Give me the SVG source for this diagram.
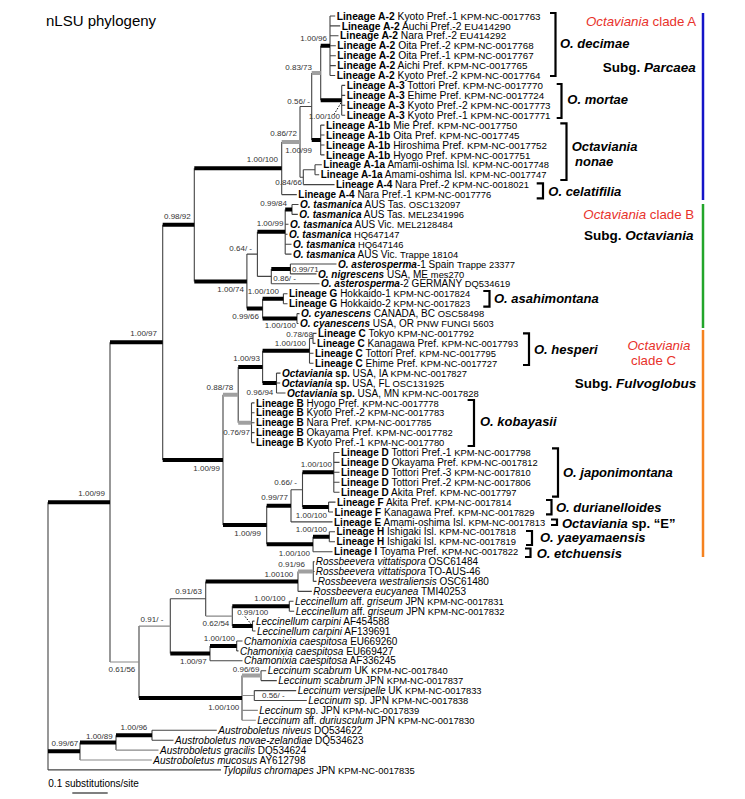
<svg xmlns="http://www.w3.org/2000/svg" width="745" height="799" viewBox="0 0 745 799">
<defs>
<style>
text{font-family:"Liberation Sans",Arial,sans-serif;fill:#000}
.lf{font-size:10px}
.la{font-size:10.3px}
.b{font-weight:bold}
.i{font-style:italic}
.bi{font-weight:bold;font-style:italic}
.c{font-size:9.4px}
.la .c{font-size:9.8px}
.s{font-size:8px;fill:#333}
.sp{font-size:13px;font-weight:bold;font-style:italic}
.red{font-size:13.3px;fill:#e8322b}
.subg{font-size:13.5px;font-weight:bold}
.t{stroke:#444;stroke-width:1.1;fill:none}
.tg{stroke:#888;stroke-width:1.1;fill:none}
.k{stroke:#000;stroke-width:4;fill:none}
.g{stroke:#a0a0a0;stroke-width:4;fill:none}
.dt{stroke:#000;stroke-width:1;stroke-dasharray:1.5 1.5;fill:none}
.br{stroke:#000;stroke-width:2.2;fill:none}
</style>
</defs>
<rect width="745" height="799" fill="#fff"/>
<g id="title"><text x="46" y="25.5" font-size="15">nLSU phylogeny</text></g>

<g id="connectors">
<path class="t" d="M48 502.2V769.9M110 342.3V662M162.7 224.8V459.9M194.3 168.2V281.4M281.7 141.9V194.6M300 106.5V177.2M311.7 73V140M320.7 45.8V100.3M330 16V75.5M341.7 85.4V115.2M320.7 125.1V154.9M303.3 169.8V184.6M315 164.8V174.7M246.9 254.1V308.6M257.4 231.8V276.4M285.2 209.5V254.1M292 204.5V214.4M271.3 269V283.8M290.4 264V273.9M262.6 298.7V318.6M283.4 293.8V303.7M297 313.6V323.5M223 394.8V525M238.2 366.9V422.7M262.6 350.8V383M309.5 338.4V363.2M313 333.4V343.4M276.5 373.1V393M251.5 402.9V442.6M266.7 505.8V544.2M291 489.7V521.9M302.5 472.3V507M333.8 452.5V492.2M328.6 502.1V512M313 536.8V551.7M329.3 531.8V541.8M139 626.1V698M170.3 598.8V653.4M205.7 581.5V616.1M298 571.5V591.4M313.3 561.6V581.4M232.3 606.2V626M289.3 601.3V611.2M252.5 621.1V631M210 646V660.8M236.7 641V650.9M242 675.6V720.3M261 670.7V680.6M254.3 690.6V700.5M80 742.6V760M116 735.2V750.1M152 730.2V740.2"/>
<path class="t" d="M300 106.5H311.7M300 177.2H303.3M303.3 169.8H315M246.9 254.1H257.4M257.4 276.4H271.3M291 489.7H302.5M309.5 338.4H313M170.3 598.8H205.7"/>
<path class="tg" d="M110 662H139M139 626.1H170.3M205.7 616.1H232.3M242 695.5H254.3M242 710.4H257.8M242 720.3H255.8M116 750.1H158.5M80 760H151.8"/>
<path class="k" d="M48 502.2H110M48 751.3H80M110 342.3H162.7M162.7 224.8H194.3M162.7 459.9H223M194.3 168.2H281.7M194.3 281.4H246.9M320.7 45.8H330M320.7 100.3H341.7M311.7 140H320.7M257.4 231.8H285.2M285.2 209.5H292M271.3 269H290.4M246.9 308.6H262.6M262.6 298.7H283.4M262.6 318.6H297M238.2 366.9H262.6M262.6 350.8H309.5M262.6 383H276.5M223 525H266.7M266.7 505.8H291M302.5 472.3H333.8M302.5 507H328.6M266.7 544.2H313M313 536.8H329.3M139 698H242M170.3 653.4H210M205.7 581.5H298M232.3 606.2H289.3M232.3 626H252.5M210 646H236.7M80 742.6H116M116 735.2H152"/>
<path class="g" d="M281.7 141.9H300M311.7 73H320.7M223 394.8H238.2M238.2 422.7H251.5M298 571.5H313.3M242 675.6H261"/>
<path class="t" d="M330 16H335.2M330 25.9H340.2M330 35.8H338.5M330 45.8H335.8M330 55.7H335.8M330 65.6H335.8M330 75.5H335.2M341.7 85.4H345.2M341.7 95.4H345.2M341.7 105.3H345.2M341.7 115.2H345.2M320.7 125.1H324.5M320.7 135H324.5M320.7 145H324.5M320.7 154.9H324.5M315 164.8H321.8M315 174.7H319.2M303.3 184.6H334.5M281.7 194.6H296.8M292 204.5H298.5M292 214.4H297.8M285.2 224.3H288.5M285.2 234.2H287.5M285.2 244.2H291.5M285.2 254.1H291.5M290.4 264H336.5M290.4 273.9H316.5M271.3 283.8H319.5M283.4 293.8H287.5M283.4 303.7H287.5M297 313.6H299.5M297 323.5H298.5M313 333.4H316.5M313 343.4H315.5M309.5 353.3H313.5M309.5 363.2H313.5M276.5 373.1H280.5M276.5 383H280.2M276.5 393H285.5M251.5 402.9H254.5M251.5 412.8H254.5M251.5 422.7H254.5M251.5 432.6H254.5M251.5 442.6H254.5M333.8 452.5H339.5M333.8 462.4H339.5M333.8 472.3H339.5M333.8 482.2H339.5M333.8 492.2H339.5M328.6 502.1H335.5M328.6 512H333M291 521.9H332.5M329.3 531.8H335M329.3 541.8H335M313 551.7H332.5M313.3 561.6H314.5M313.3 571.5H314.5M313.3 581.4H316.5M298 591.4H311.8M289.3 601.3H293.5M289.3 611.2H294.2M252.5 621.1H254.5M252.5 631H255.5M236.7 641H242.5M236.7 650.9H238.5M210 660.8H242.5M261 670.7H266.2M261 680.6H276.8M254.3 690.6H296.2M254.3 700.5H306.8M152 730.2H216.8M152 740.2H173.5M48 769.9H221"/>
<path class="dt" d="M334 114.5L341.5 102M245 616.5L251 624"/>
</g>

<g id="clade-bars">
<path d="M703 13V200" stroke="#1414c8" stroke-width="2.5"/>
<path d="M703 204V328" stroke="#22a52a" stroke-width="2.5"/>
<path d="M703 330V557" stroke="#f5821f" stroke-width="2.5"/>
</g>

<g id="brackets">
<path class="br" d="M550 13H555.5V76H550M556.7 84H561.5V118H556.7M560.3 123.3H566.5V180H560.3M536.7 183.3H543V198.3H536.7M483.3 291H489.5V306.7H483.3M523 333.3H529V365H523M467.6 400H474V446H467.6M552 448.3H558V496.7H552M546 500H551.5V514.3H546M551 519.5H557V525H551M526 531H532V545H526M525 548.5H530.5V557H525"/>
</g>

<g id="clade-labels">
<text class="red" x="586" y="25.5"><tspan class="i">Octaviania</tspan> clade A</text>
<text class="subg" x="602.7" y="71.5">Subg. <tspan class="i">Parcaea</tspan></text>
<text class="red" x="583.3" y="218.8"><tspan class="i">Octaviania</tspan> clade B</text>
<text class="subg" x="584" y="239.8">Subg. <tspan class="i">Octaviania</tspan></text>
<text class="red i" x="627.5" y="349.8">Octaviania</text>
<text class="red" x="631" y="364.8">clade C</text>
<text class="subg" x="574.7" y="387.5">Subg. <tspan class="i">Fulvoglobus</tspan></text>
</g>

<g id="species-labels">
<text class="sp" x="560" y="48">O. decimae</text>
<text class="sp" x="567.3" y="104">O. mortae</text>
<text class="sp" x="571.7" y="150.5">Octaviania</text>
<text class="sp" x="575" y="165.5">nonae</text>
<text class="sp" x="548.3" y="196.3">O. celatifilia</text>
<text class="sp" x="494" y="303">O. asahimontana</text>
<text class="sp" x="534" y="353.7">O. hesperi</text>
<text class="sp" x="480" y="426.4">O. kobayasii</text>
<text class="sp" x="563" y="476.7">O. japonimontana</text>
<text class="sp" x="556" y="512">O. durianelloides</text>
<text class="sp" x="562" y="527.7">Octaviania<tspan font-style="normal"> sp. “E”</tspan></text>
<text class="sp" x="540" y="541.7">O. yaeyamaensis</text>
<text class="sp" x="536.7" y="557.7">O. etchuensis</text>
</g>

<g id="support-values">
<text class="s" text-anchor="end" x="105" y="496.2">1.00/99</text>
<text class="s" text-anchor="end" x="157" y="336.2">1.00/97</text>
<text class="s" text-anchor="end" x="190.7" y="218.9">0.98/92</text>
<text class="s" text-anchor="end" x="278" y="162.2">1.00/100</text>
<text class="s" text-anchor="end" x="244" y="292.2">1.00/74</text>
<text class="s" text-anchor="end" x="220" y="470.6">1.00/99</text>
<text class="s" text-anchor="end" x="261" y="536.2">1.00/99</text>
<text class="s" text-anchor="end" x="135.3" y="672.2">0.61/56</text>
<text class="s" text-anchor="end" x="163.3" y="622.2">0.91/ -</text>
<text class="s" text-anchor="end" x="202" y="593.9">0.91/63</text>
<text class="s" text-anchor="end" x="293.3" y="576.9">1.00100</text>
<text class="s" text-anchor="end" x="305" y="566.9">0.91/96</text>
<text class="s" text-anchor="end" x="285.5" y="600.6">1.00/100</text>
<text class="s" text-anchor="end" x="268.3" y="615">0.99/100</text>
<text class="s" text-anchor="end" x="229.3" y="625.6">0.62/54</text>
<text class="s" text-anchor="end" x="235" y="640.6">1.00/100</text>
<text class="s" text-anchor="end" x="206.7" y="664.4">1.00/97</text>
<text class="s" text-anchor="end" x="259.5" y="672.1">0.96/69</text>
<text class="s" x="262" y="698.4">0.56/ -</text>
<text class="s" text-anchor="end" x="239.3" y="709.6">1.00/100</text>
<text class="s" text-anchor="end" x="78.3" y="746.2">0.99/67</text>
<text class="s" text-anchor="end" x="112.7" y="738.6">1.00/89</text>
<text class="s" text-anchor="end" x="147.3" y="730.2">1.00/96</text>
<text class="s" text-anchor="end" x="327" y="40.9">1.00/96</text>
<text class="s" text-anchor="end" x="312" y="69.6">0.83/73</text>
<text class="s" text-anchor="end" x="310" y="103.6">0.56/ -</text>
<text class="s" text-anchor="end" x="340" y="118.6">1.00/100</text>
<text class="s" text-anchor="end" x="297" y="136.2">0.86/72</text>
<text class="s" text-anchor="end" x="312" y="152.9">1.00/99</text>
<text class="s" text-anchor="end" x="302" y="184.9">0.84/66</text>
<text class="s" text-anchor="end" x="287" y="205.9">0.99/84</text>
<text class="s" text-anchor="end" x="283.4" y="226.2">1.00/99</text>
<text class="s" text-anchor="end" x="252" y="251.2">0.64/ -</text>
<text class="s" x="292" y="272.2">0.99/71</text>
<text class="s" x="273.3" y="281.2">0.86/ -</text>
<text class="s" text-anchor="end" x="279" y="294.4">1.00/100</text>
<text class="s" text-anchor="end" x="259" y="318.9">0.99/66</text>
<text class="s" text-anchor="end" x="296" y="328.4">1.00/100</text>
<text class="s" text-anchor="end" x="313" y="337.4">0.78/68</text>
<text class="s" text-anchor="end" x="306" y="346.4">1.00/100</text>
<text class="s" text-anchor="end" x="260" y="361.4">1.00/93</text>
<text class="s" text-anchor="end" x="273.3" y="395.4">0.96/94</text>
<text class="s" text-anchor="end" x="233.3" y="389.6">0.88/78</text>
<text class="s" text-anchor="end" x="250" y="435.4">0.76/97</text>
<text class="s" text-anchor="end" x="332" y="466.6">1.00/100</text>
<text class="s" text-anchor="end" x="297" y="484.9">0.66/ -</text>
<text class="s" text-anchor="end" x="288" y="500.4">0.99/77</text>
<text class="s" text-anchor="end" x="327" y="517.9">1.00/100</text>
<text class="s" text-anchor="end" x="327" y="532.2">1.00/100</text>
<text class="s" text-anchor="end" x="310" y="556.2">1.00/100</text>
</g>

<g id="leaf-01"><text class="la" x="336.7" y="19.6"><tspan class="b">Lineage A-2</tspan> Kyoto Pref.-1 <tspan class="c">KPM-NC-0017763</tspan></text></g>
<g id="leaf-02"><text class="la" x="341.7" y="29.5"><tspan class="b">Lineage A-2</tspan> Auchi Pref.-2 <tspan class="c">EU414290</tspan></text></g>
<g id="leaf-03"><text class="la" x="340" y="39.4"><tspan class="b">Lineage A-2</tspan> Nara Pref.-2 <tspan class="c">EU414292</tspan></text></g>
<g id="leaf-04"><text class="la" x="337.3" y="49.4"><tspan class="b">Lineage A-2</tspan> Oita Pref.-2 <tspan class="c">KPM-NC-0017768</tspan></text></g>
<g id="leaf-05"><text class="la" x="337.3" y="59.3"><tspan class="b">Lineage A-2</tspan> Oita Pref.-1 <tspan class="c">KPM-NC-0017767</tspan></text></g>
<g id="leaf-06"><text class="la" x="337.3" y="69.2"><tspan class="b">Lineage A-2</tspan> Aichi Pref. <tspan class="c">KPM-NC-0017765</tspan></text></g>
<g id="leaf-07"><text class="la" x="336.7" y="79.1"><tspan class="b">Lineage A-2</tspan> Kyoto Pref.-2 <tspan class="c">KPM-NC-0017764</tspan></text></g>
<g id="leaf-08"><text class="la" x="346.7" y="89"><tspan class="b">Lineage A-3</tspan> Tottori Pref. <tspan class="c">KPM-NC-0017770</tspan></text></g>
<g id="leaf-09"><text class="la" x="346.7" y="99"><tspan class="b">Lineage A-3</tspan> Ehime Pref. <tspan class="c">KPM-NC-0017724</tspan></text></g>
<g id="leaf-10"><text class="la" x="346.7" y="108.9"><tspan class="b">Lineage A-3</tspan> Kyoto Pref.-2 <tspan class="c">KPM-NC-0017773</tspan></text></g>
<g id="leaf-11"><text class="la" x="346.7" y="118.8"><tspan class="b">Lineage A-3</tspan> Kyoto Pref.-1 <tspan class="c">KPM-NC-0017771</tspan></text></g>
<g id="leaf-12"><text class="la" x="326" y="128.7"><tspan class="b">Lineage A-1b</tspan> Mie Pref. <tspan class="c">KPM-NC-0017750</tspan></text></g>
<g id="leaf-13"><text class="la" x="326" y="138.6"><tspan class="b">Lineage A-1b</tspan> Oita Pref. <tspan class="c">KPM-NC-0017745</tspan></text></g>
<g id="leaf-14"><text class="la" x="326" y="148.6"><tspan class="b">Lineage A-1b</tspan> Hiroshima Pref. <tspan class="c">KPM-NC-0017752</tspan></text></g>
<g id="leaf-15"><text class="la" x="326" y="158.5"><tspan class="b">Lineage A-1b</tspan> Hyogo Pref. <tspan class="c">KPM-NC-0017751</tspan></text></g>
<g id="leaf-16"><text class="lf" x="323.3" y="168.4"><tspan class="b">Lineage A-1a</tspan> Amami-oshima Isl. <tspan class="c">KPM-NC-0017748</tspan></text></g>
<g id="leaf-17"><text class="lf" x="320.7" y="178.3"><tspan class="b">Lineage A-1a</tspan> Amami-oshima Isl. <tspan class="c">KPM-NC-0017747</tspan></text></g>
<g id="leaf-18"><text class="lf" x="336" y="188.2"><tspan class="b">Lineage A-4</tspan> Nara Pref.-2 <tspan class="c">KPM-NC-0018021</tspan></text></g>
<g id="leaf-19"><text class="lf" x="298.3" y="198.2"><tspan class="b">Lineage A-4</tspan> Nara Pref.-1 <tspan class="c">KPM-NC-0017776</tspan></text></g>
<g id="leaf-20"><text class="lf" x="300" y="208.1"><tspan class="bi">O. tasmanica</tspan> AUS Tas. <tspan class="c">OSC132097</tspan></text></g>
<g id="leaf-21"><text class="lf" x="299.3" y="218"><tspan class="bi">O. tasmanica</tspan> AUS Tas. <tspan class="c">MEL2341996</tspan></text></g>
<g id="leaf-22"><text class="lf" x="290" y="227.9"><tspan class="bi">O. tasmanica</tspan> AUS Vic. <tspan class="c">MEL2128484</tspan></text></g>
<g id="leaf-23"><text class="lf" x="289" y="237.8"><tspan class="bi">O. tasmanica</tspan> <tspan class="c">HQ647147</tspan></text></g>
<g id="leaf-24"><text class="lf" x="293" y="247.8"><tspan class="bi">O. tasmanica</tspan> <tspan class="c">HQ647146</tspan></text></g>
<g id="leaf-25"><text class="lf" x="293" y="257.7"><tspan class="bi">O. tasmanica</tspan> AUS Vic. <tspan class="c">Trappe 18104</tspan></text></g>
<g id="leaf-26"><text class="lf" x="338" y="267.6"><tspan class="bi">O. asterosperma</tspan>-1 Spain <tspan class="c">Trappe 23377</tspan></text></g>
<g id="leaf-27"><text class="lf" x="318" y="277.5"><tspan class="bi">O. nigrescens</tspan> USA, ME <tspan class="c">mes270</tspan></text></g>
<g id="leaf-28"><text class="lf" x="321" y="287.4"><tspan class="bi">O. asterosperma</tspan>-2 GERMANY <tspan class="c">DQ534619</tspan></text></g>
<g id="leaf-29"><text class="lf" x="289" y="297.4"><tspan class="b">Lineage G</tspan> Hokkaido-1 <tspan class="c">KPM-NC-0017824</tspan></text></g>
<g id="leaf-30"><text class="lf" x="289" y="307.3"><tspan class="b">Lineage G</tspan> Hokkaido-2 <tspan class="c">KPM-NC-0017823</tspan></text></g>
<g id="leaf-31"><text class="lf" x="301" y="317.2"><tspan class="bi">O. cyanescens</tspan> CANADA, BC <tspan class="c">OSC58498</tspan></text></g>
<g id="leaf-32"><text class="lf" x="300" y="327.1"><tspan class="bi">O. cyanescens</tspan> USA, OR <tspan class="c">PNW FUNGI 5603</tspan></text></g>
<g id="leaf-33"><text class="lf" x="318" y="337"><tspan class="b">Lineage C</tspan> Tokyo <tspan class="c">KPM-NC-0017792</tspan></text></g>
<g id="leaf-34"><text class="lf" x="317" y="347"><tspan class="b">Lineage C</tspan> Kanagawa Pref. <tspan class="c">KPM-NC-0017793</tspan></text></g>
<g id="leaf-35"><text class="lf" x="315" y="356.9"><tspan class="b">Lineage C</tspan> Tottori Pref. <tspan class="c">KPM-NC-0017795</tspan></text></g>
<g id="leaf-36"><text class="lf" x="315" y="366.8"><tspan class="b">Lineage C</tspan> Ehime Pref. <tspan class="c">KPM-NC-0017727</tspan></text></g>
<g id="leaf-37"><text class="lf" x="282" y="376.7"><tspan class="bi">Octaviania</tspan><tspan class="b"> sp.</tspan> USA, IA <tspan class="c">KPM-NC-0017827</tspan></text></g>
<g id="leaf-38"><text class="lf" x="281.7" y="386.6"><tspan class="bi">Octaviania</tspan><tspan class="b"> sp.</tspan> USA, FL <tspan class="c">OSC131925</tspan></text></g>
<g id="leaf-39"><text class="lf" x="287" y="396.6"><tspan class="bi">Octaviania</tspan><tspan class="b"> sp.</tspan> USA, MN <tspan class="c">KPM-NC-0017828</tspan></text></g>
<g id="leaf-40"><text class="lf" x="256" y="406.5"><tspan class="b">Lineage B</tspan> Hyogo Pref. <tspan class="c">KPM-NC-0017778</tspan></text></g>
<g id="leaf-41"><text class="lf" x="256" y="416.4"><tspan class="b">Lineage B</tspan> Kyoto Pref.-2 <tspan class="c">KPM-NC-0017783</tspan></text></g>
<g id="leaf-42"><text class="lf" x="256" y="426.3"><tspan class="b">Lineage B</tspan> Nara Pref. <tspan class="c">KPM-NC-0017785</tspan></text></g>
<g id="leaf-43"><text class="lf" x="256" y="436.2"><tspan class="b">Lineage B</tspan> Okayama Pref. <tspan class="c">KPM-NC-0017782</tspan></text></g>
<g id="leaf-44"><text class="lf" x="256" y="446.2"><tspan class="b">Lineage B</tspan> Kyoto Pref.-1 <tspan class="c">KPM-NC-0017780</tspan></text></g>
<g id="leaf-45"><text class="lf" x="341" y="456.1"><tspan class="b">Lineage D</tspan> Tottori Pref.-1 <tspan class="c">KPM-NC-0017798</tspan></text></g>
<g id="leaf-46"><text class="lf" x="341" y="466"><tspan class="b">Lineage D</tspan> Okayama Pref. <tspan class="c">KPM-NC-0017812</tspan></text></g>
<g id="leaf-47"><text class="lf" x="341" y="475.9"><tspan class="b">Lineage D</tspan> Tottori Pref.-3 <tspan class="c">KPM-NC-0017810</tspan></text></g>
<g id="leaf-48"><text class="lf" x="341" y="485.8"><tspan class="b">Lineage D</tspan> Tottori Pref.-2 <tspan class="c">KPM-NC-0017806</tspan></text></g>
<g id="leaf-49"><text class="lf" x="341" y="495.8"><tspan class="b">Lineage D</tspan> Akita Pref. <tspan class="c">KPM-NC-0017797</tspan></text></g>
<g id="leaf-50"><text class="lf" x="337" y="505.7"><tspan class="b">Lineage F</tspan> Akita Pref. <tspan class="c">KPM-NC-0017814</tspan></text></g>
<g id="leaf-51"><text class="lf" x="334.5" y="515.6"><tspan class="b">Lineage F</tspan> Kanagawa Pref. <tspan class="c">KPM-NC-0017829</tspan></text></g>
<g id="leaf-52"><text class="lf" x="334" y="525.5"><tspan class="b">Lineage E</tspan> Amami-oshima Isl. <tspan class="c">KPM-NC-0017813</tspan></text></g>
<g id="leaf-53"><text class="lf" x="336.5" y="535.4"><tspan class="b">Lineage H</tspan> Ishigaki Isl. <tspan class="c">KPM-NC-0017818</tspan></text></g>
<g id="leaf-54"><text class="lf" x="336.5" y="545.4"><tspan class="b">Lineage H</tspan> Ishigaki Isl. <tspan class="c">KPM-NC-0017819</tspan></text></g>
<g id="leaf-55"><text class="lf" x="334" y="555.3"><tspan class="b">Lineage I</tspan> Toyama Pref. <tspan class="c">KPM-NC-0017822</tspan></text></g>
<g id="leaf-56"><text class="lf" x="315.7" y="565.2"><tspan class="i">Rossbeevera vittatispora</tspan> OSC61484</text></g>
<g id="leaf-57"><text class="lf" x="315.7" y="575.1"><tspan class="i">Rossbeevera vittatispora</tspan> TO-AUS-46</text></g>
<g id="leaf-58"><text class="lf" x="317.7" y="585"><tspan class="i">Rossbeevera westraliensis</tspan> OSC61480</text></g>
<g id="leaf-59"><text class="lf" x="313.3" y="595"><tspan class="i">Rossbeevera eucyanea</tspan> TMI40253</text></g>
<g id="leaf-60"><text class="lf" x="295" y="604.9"><tspan class="i">Leccinellum</tspan> aff. <tspan class="i">griseum</tspan> JPN <tspan class="c">KPM-NC-0017831</tspan></text></g>
<g id="leaf-61"><text class="lf" x="295.7" y="614.8"><tspan class="i">Leccinellum</tspan> aff. <tspan class="i">griseum</tspan> JPN <tspan class="c">KPM-NC-0017832</tspan></text></g>
<g id="leaf-62"><text class="lf" x="256" y="624.7"><tspan class="i">Leccinellum carpini</tspan> AF454588</text></g>
<g id="leaf-63"><text class="lf" x="257" y="634.6"><tspan class="i">Leccinellum carpini</tspan> AF139691</text></g>
<g id="leaf-64"><text class="lf" x="244" y="644.6"><tspan class="i">Chamonixia caespitosa</tspan> EU669260</text></g>
<g id="leaf-65"><text class="lf" x="240" y="654.5"><tspan class="i">Chamonixia caespitosa</tspan> EU669427</text></g>
<g id="leaf-66"><text class="lf" x="244" y="664.4"><tspan class="i">Chamonixia caespitosa</tspan> AF336245</text></g>
<g id="leaf-67"><text class="lf" x="267.7" y="674.3"><tspan class="i">Leccinum scabrum</tspan> UK <tspan class="c">KPM-NC-0017840</tspan></text></g>
<g id="leaf-68"><text class="lf" x="278.3" y="684.2"><tspan class="i">Leccinum scabrum</tspan> JPN <tspan class="c">KPM-NC-0017837</tspan></text></g>
<g id="leaf-69"><text class="lf" x="297.7" y="694.2"><tspan class="i">Leccinum versipelle</tspan> UK <tspan class="c">KPM-NC-0017833</tspan></text></g>
<g id="leaf-70"><text class="lf" x="308.3" y="704.1"><tspan class="i">Leccinum</tspan> sp. JPN <tspan class="c">KPM-NC-0017838</tspan></text></g>
<g id="leaf-71"><text class="lf" x="259.3" y="714"><tspan class="i">Leccinum</tspan> sp. JPN <tspan class="c">KPM-NC-0017839</tspan></text></g>
<g id="leaf-72"><text class="lf" x="257.3" y="723.9"><tspan class="i">Leccinum</tspan> aff. <tspan class="i">duriusculum</tspan> JPN <tspan class="c">KPM-NC-0017830</tspan></text></g>
<g id="leaf-73"><text class="lf" x="218.3" y="733.8"><tspan class="i">Austroboletus niveus</tspan> DQ534622</text></g>
<g id="leaf-74"><text class="lf" x="175" y="743.8"><tspan class="i">Austroboletus novae-zelandiae</tspan> DQ534623</text></g>
<g id="leaf-75"><text class="lf" x="160" y="753.7"><tspan class="i">Austroboletus gracilis</tspan> DQ534624</text></g>
<g id="leaf-76"><text class="lf" x="153.3" y="763.6"><tspan class="i">Austroboletus mucosus</tspan> AY612798</text></g>
<g id="leaf-77"><text class="lf" x="222.7" y="773.5"><tspan class="i">Tylopilus chromapes</tspan> JPN <tspan class="c">KPM-NC-0017835</tspan></text></g>

<g id="scale-bar">
<text x="48.3" y="786.5" font-size="10">0.1 substitutions/site</text>
<path d="M72.3 793H107.7" stroke="#000" stroke-width="1.2"/>
</g>
</svg>
